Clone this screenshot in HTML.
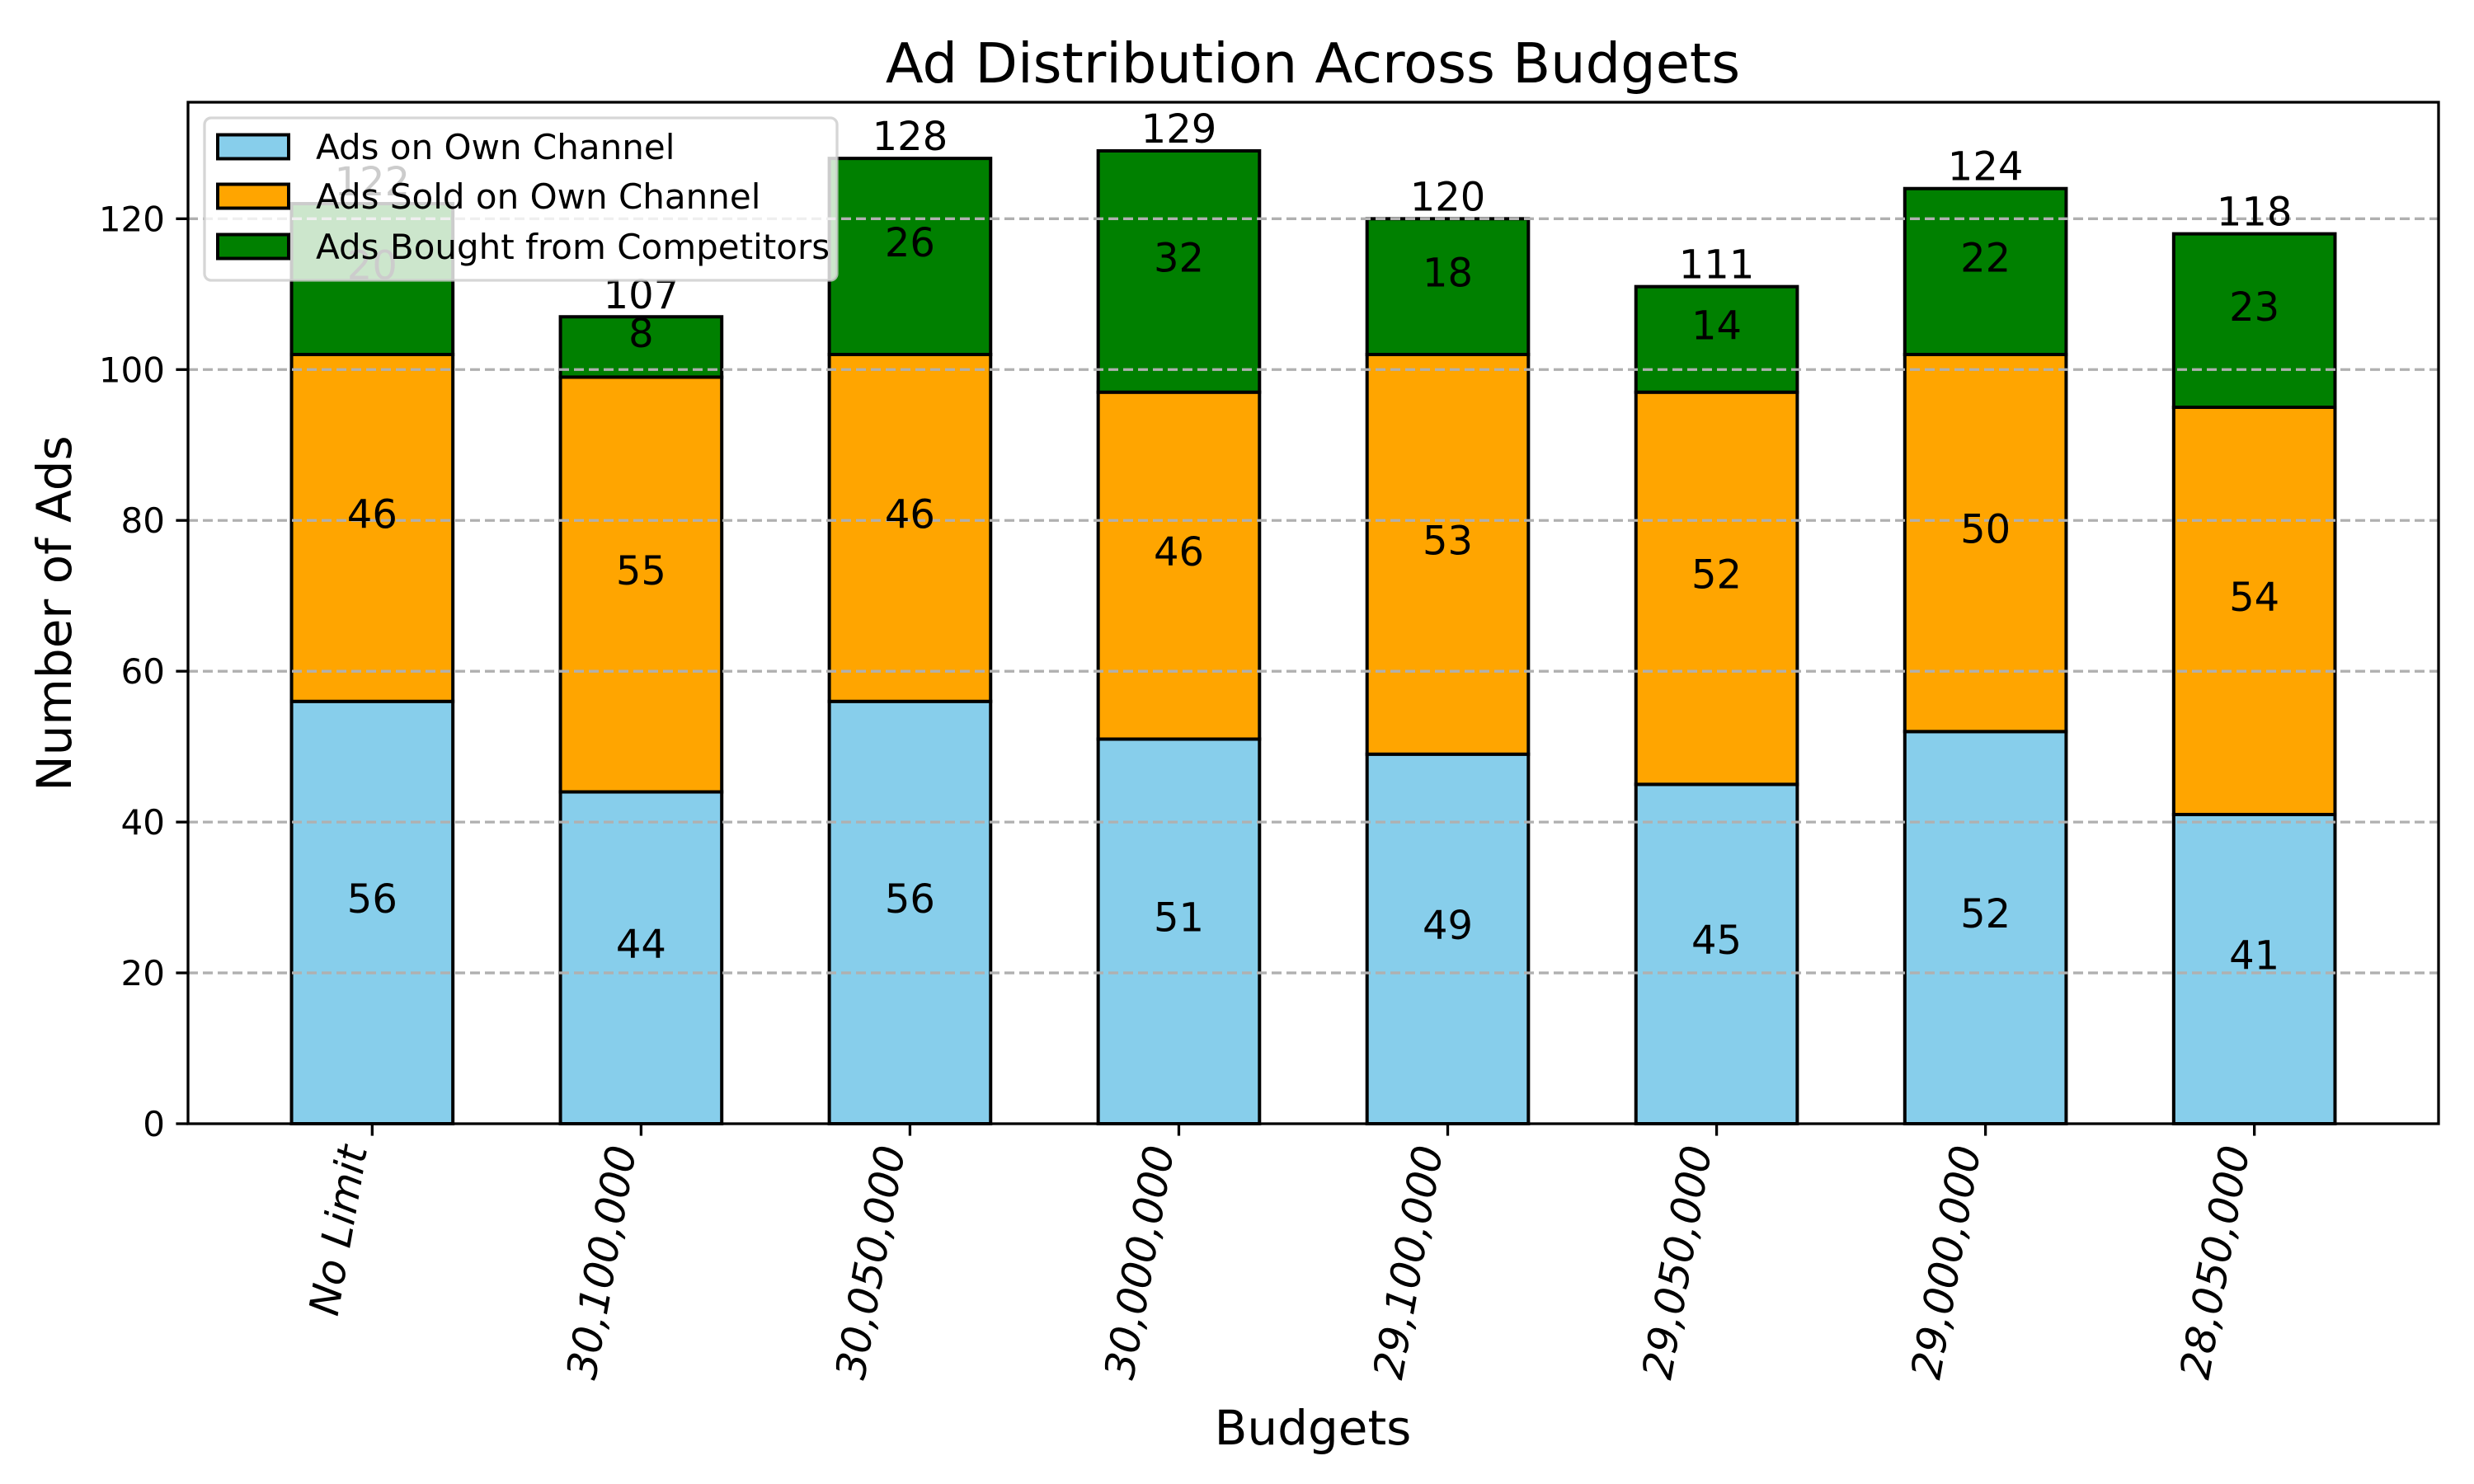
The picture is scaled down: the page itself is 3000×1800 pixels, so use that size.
<!DOCTYPE html>
<html><head><meta charset="utf-8"><style>
html,body{margin:0;padding:0;background:#fff;}
svg{display:block;font-family:"DejaVu Sans","Liberation Sans",sans-serif;}
</style></head><body>
<svg id="chart" width="3000" height="1800" viewBox="0 0 3000 1800" xmlns="http://www.w3.org/2000/svg">
<rect x="0" y="0" width="3000" height="1800" fill="#fff"/>
<text x="1592" y="100" font-size="67" text-anchor="middle">Ad Distribution Across Budgets</text>
<text transform="translate(86,744) rotate(-90)" font-size="58" text-anchor="middle">Number of Ads</text>
<text x="1592" y="1752" font-size="58" text-anchor="middle">Budgets</text>
<g id="bars"></g>
<g id="grid"></g>
<g id="labels"></g>
<g id="axes"></g>
<g id="legend"></g>
</svg>
<script>
const categories = ["No Limit","30,100,000","30,050,000","30,000,000","29,100,000","29,050,000","29,000,000","28,050,000"];
const ownAds = [56,44,56,51,49,45,52,41];
const soldAds = [46,55,46,46,53,52,50,54];
const boughtAds = [20,8,26,32,18,14,22,23];
const yTicks = [0,20,40,60,80,100,120];
const seriesNames = ["Ads on Own Channel","Ads Sold on Own Channel","Ads Bought from Competitors"];

const NS = "http://www.w3.org/2000/svg";
const L = 228, R = 2957, T = 124, B = 1363;
const xMin = -0.685, xMax = categories.length - 1 + 0.685;
const yMax = 135.45;
const xs = v => L + (v - xMin) / (xMax - xMin) * (R - L);
const ys = v => B - v / yMax * (B - T);
const barW = 0.6;
const colors = ["#87CEEB", "#FFA500", "#008000"];
const series = [ownAds, soldAds, boughtAds];

function mk(tag, attrs, parent) {
  const e = document.createElementNS(NS, tag);
  for (const k in attrs) e.setAttribute(k, attrs[k]);
  parent.appendChild(e);
  return e;
}
const gBars = document.getElementById('bars');
const gGrid = document.getElementById('grid');
const gLab = document.getElementById('labels');
const gAx = document.getElementById('axes');
const gLeg = document.getElementById('legend');

categories.forEach((c, i) => {
  let base = 0;
  series.forEach((s, k) => {
    const v = s[i];
    const r = mk('rect', {x: xs(i - barW/2), y: ys(base + v), width: xs(i + barW/2) - xs(i - barW/2), height: ys(base) - ys(base + v), fill: colors[k], stroke: '#000', 'stroke-width': 4}, gBars);
    
    
    const t = mk('text', {x: xs(i), y: ys(base + v/2), 'font-size': 48, 'text-anchor': 'middle'}, gLab);
    t.textContent = v;
    
    
    base += v;
  });
  const tt = mk('text', {x: xs(i), y: ys(base) - 10, 'font-size': 48, 'text-anchor': 'middle'}, gLab);
  tt.textContent = base;
  
  
});

yTicks.forEach(v => {
  if (v > 0) {
    const g = mk('line', {x1: L, x2: R, y1: ys(v), y2: ys(v), stroke: '#b0b0b0', 'stroke-width': 3.3, 'stroke-dasharray': '12,6'}, gGrid);
    
    
  }
  const tk = mk('line', {x1: L - 14.6, x2: L, y1: ys(v), y2: ys(v), stroke: '#000', 'stroke-width': 3.3}, gAx);
  
  
  const tl = mk('text', {x: L - 28, y: ys(v) + 15, 'font-size': 42, 'text-anchor': 'end'}, gAx);
  tl.textContent = v;
  
  
});

categories.forEach((c, i) => {
  const tk = mk('line', {x1: xs(i), x2: xs(i), y1: B, y2: B + 14.6, stroke: '#000', 'stroke-width': 3.3}, gAx);
  
  
  const ax = xs(i) - 6, ay = B + 30;
  const tl = mk('text', {x: ax, y: ay, 'font-size': 50, 'font-style': 'italic', 'text-anchor': 'end', transform: 'rotate(-80 ' + ax + ' ' + ay + ')'}, gAx);
  tl.textContent = c;
  
  
});

const frame = mk('rect', {x: L, y: T, width: R - L, height: B - T, fill: 'none', stroke: '#000', 'stroke-width': 3.3}, gAx);



const lb = mk('rect', {x: 248, y: 143, width: 767, height: 197, rx: 8, fill: 'rgba(255,255,255,0.8)', stroke: 'rgba(204,204,204,0.8)', 'stroke-width': 3.3}, gLeg);


const rowY = [178, 238, 299];
seriesNames.forEach((n, k) => {
  const p = mk('rect', {x: 264, y: rowY[k] - 14.5, width: 86, height: 29, fill: colors[k], stroke: '#000', 'stroke-width': 4}, gLeg);
  
  
  const t = mk('text', {x: 383, y: rowY[k] + 15, 'font-size': 42}, gLeg);
  t.textContent = n;
  
  
});
</script>
</body></html>
